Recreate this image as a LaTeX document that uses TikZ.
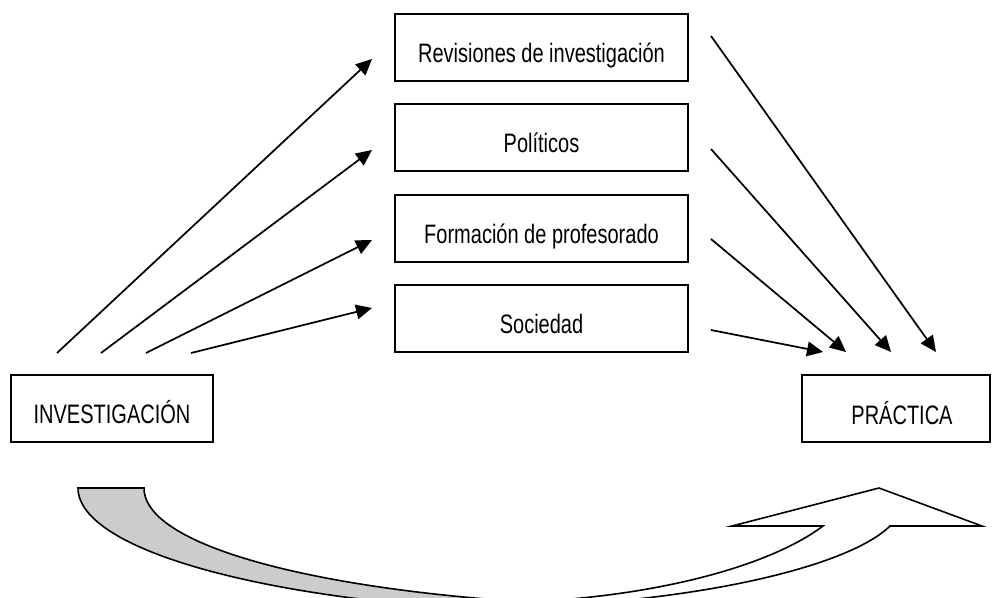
\documentclass[tikz,border=0pt]{standalone}
\usepackage{fontspec}
\setmainfont[FakeStretch=0.75]{Liberation Sans}
\usetikzlibrary{arrows.meta}
\begin{document}
\begin{tikzpicture}[x=0.75pt,y=-0.75pt,
  box/.style={draw, line width=1.3pt, minimum width=219.75pt, minimum height=50.25pt, inner sep=0pt},
  lbl/.style={anchor=base, font=\fontsize{20}{24}\selectfont, inner sep=0pt},
  conn/.style={line width=1.3pt, -{Triangle[length=12pt,width=11pt]}},
  shapeline/.style={line width=1.2pt, line join=miter}]
\useasboundingbox (0,0) rectangle (992,597);

% middle boxes
\node[box] (rev) at (541.5,47.5) {};
\node[box] (pol) at (541.5,137.5) {};
\node[box] (for) at (541.5,228.5) {};
\node[box] (soc) at (541.5,318.5) {};
\node[box, minimum width=151.5pt] (inv) at (112,408.5) {};
\node[box, minimum width=141pt] (pra) at (896,408.5) {};

\node[lbl] (trev) at ([yshift=-36.75pt]rev.north) {Revisiones de investigación};
\node[lbl] (tpol) at ([yshift=-36.75pt]pol.north) {Políticos};
\node[lbl] (tfor) at ([yshift=-36.75pt]for.north) {Formación de profesorado};
\node[lbl] (tsoc) at ([yshift=-36.75pt]soc.north) {Sociedad};
\node[lbl] (tinv) at ([yshift=-36.75pt]inv.north) {INVESTIGACIÓN};
\node[lbl] (tpra) at (902,424) {PRÁCTICA};

% arrow endpoints
\coordinate (l1s) at (57,353);  \coordinate (l1e) at (372,59);
\coordinate (l2s) at (101,353); \coordinate (l2e) at (372,150);
\coordinate (l3s) at (146,353); \coordinate (l3e) at (372,240);
\coordinate (l4s) at (191,353); \coordinate (l4e) at (372,308);
\coordinate (r1s) at (711,36);  \coordinate (r1e) at (936,352);
\coordinate (r2s) at (711,149); \coordinate (r2e) at (891,352);
\coordinate (r3s) at (711,239); \coordinate (r3e) at (846,352);
\coordinate (r4s) at (711,330); \coordinate (r4e) at (823,352);

\foreach \a in {l1,l2,l3,l4,r1,r2,r3,r4}
  \draw[conn] (\a s) -- (\a e);

% curved up arrow at the bottom
\begin{scope}
\clip (0,0) rectangle (992,597);
\filldraw[shapeline, fill=gray!40] (78,488) -- (144,488)
  .. controls (144,553) and (360,600) .. (620,606) -- (600,613)
  .. controls (312,613) and (78,557) .. cycle;
\filldraw[shapeline, fill=white] (480,603)
  .. controls (630,603) and (763,571) .. (823,526)
  -- (732,526) -- (879,488) -- (982,526) -- (890,526)
  .. controls (848,567) and (700,600) .. (540,606) -- cycle;
\end{scope}
\end{tikzpicture}
\end{document}
